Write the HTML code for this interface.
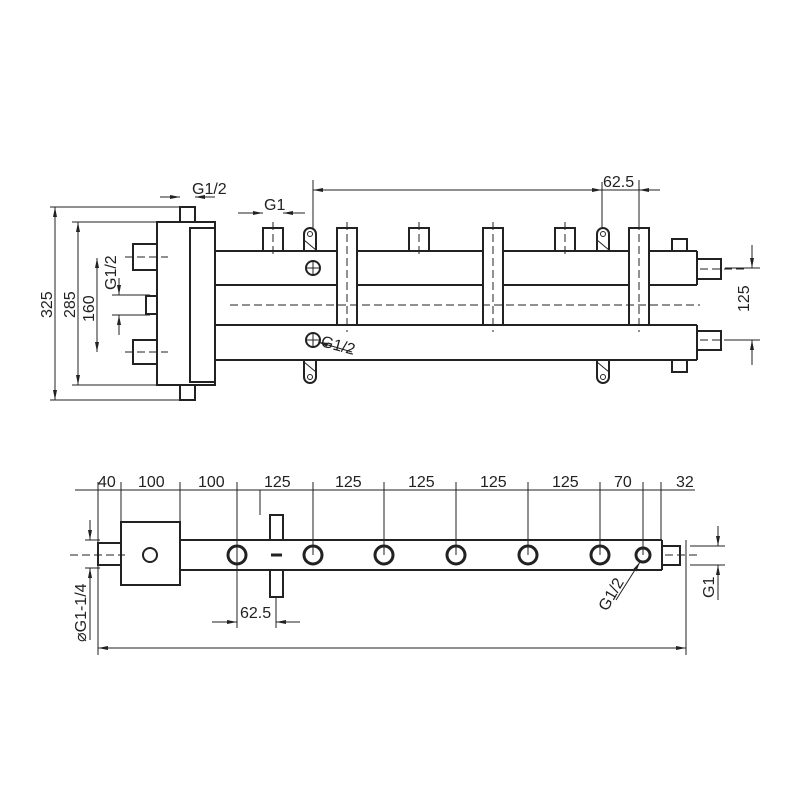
<!DOCTYPE html>
<html><head><meta charset="utf-8"><style>body{margin:0;background:#fff}svg{display:block}text{font-family:"Liberation Sans",sans-serif;font-size:16px;fill:#222}</style></head><body>
<svg width="800" height="800" viewBox="0 0 800 800" xmlns="http://www.w3.org/2000/svg">
<defs><marker id="a" viewBox="0 0 10 4" refX="10" refY="2" markerWidth="10" markerHeight="4" orient="auto-start-reverse" markerUnits="userSpaceOnUse"><path d="M0,0L10,2L0,4z" fill="#222"/></marker></defs>
<g stroke="#222" fill="none" stroke-width="1">
<g stroke-width="2">
<rect x="157" y="222" width="58" height="163" fill="#fff"/>
<rect x="190" y="228" width="25" height="154"/>
<line x1="215" y1="251" x2="697" y2="251"/><line x1="215" y1="285" x2="697" y2="285"/>
<line x1="215" y1="325" x2="697" y2="325"/><line x1="215" y1="360" x2="697" y2="360"/>
<line x1="697" y1="251" x2="697" y2="285"/><line x1="697" y1="325" x2="697" y2="360"/>
<rect x="180" y="207" width="15" height="15"/><rect x="180" y="385" width="15" height="15"/>
<rect x="133" y="244" width="24" height="26"/><rect x="133" y="340" width="24" height="24"/><rect x="146" y="296" width="11" height="18"/>
<rect x="697" y="259" width="24" height="20"/><rect x="697" y="331" width="24" height="19"/>
<rect x="672" y="239" width="15" height="12"/><rect x="672" y="360" width="15" height="12"/>
<rect x="337" y="228" width="20" height="97" fill="#fff"/><rect x="483" y="228" width="20" height="97" fill="#fff"/><rect x="629" y="228" width="20" height="97" fill="#fff"/>
<rect x="263" y="228" width="20" height="23"/><rect x="409" y="228" width="20" height="23"/><rect x="555" y="228" width="20" height="23"/>
<path d="M304,251V234a6,6 0 0 1 12,0V251"/><path d="M597,251V234a6,6 0 0 1 12,0V251"/>
<path d="M304,360V377a6,6 0 0 0 12,0V360"/><path d="M597,360V377a6,6 0 0 0 12,0V360"/>
<circle cx="313" cy="268" r="7"/><circle cx="313" cy="340" r="7"/>
</g>
<line x1="306" y1="268" x2="320" y2="268"/><line x1="313" y1="261" x2="313" y2="275"/>
<line x1="306" y1="340" x2="320" y2="340"/><line x1="313" y1="333" x2="313" y2="347"/>
<line x1="304" y1="240" x2="316" y2="250"/><line x1="597" y1="240" x2="609" y2="250"/>
<line x1="304" y1="362" x2="316" y2="372"/><line x1="597" y1="362" x2="609" y2="372"/>
<circle cx="310" cy="234" r="2.5"/><circle cx="603" cy="234" r="2.5"/><circle cx="310" cy="377" r="2.5"/><circle cx="603" cy="377" r="2.5"/>
<g stroke-dasharray="8,4"><line x1="230" y1="305" x2="700" y2="305"/><line x1="347" y1="222" x2="347" y2="332"/><line x1="493" y1="222" x2="493" y2="332"/><line x1="639" y1="222" x2="639" y2="332"/>
<line x1="273" y1="222" x2="273" y2="258"/><line x1="419" y1="222" x2="419" y2="258"/><line x1="565" y1="222" x2="565" y2="258"/>
<line x1="700" y1="269" x2="745" y2="269"/><line x1="700" y1="340" x2="745" y2="340"/><line x1="125" y1="257" x2="168" y2="257"/><line x1="125" y1="352" x2="168" y2="352"/></g>
<line x1="50" y1="207" x2="185" y2="207"/><line x1="50" y1="400" x2="185" y2="400"/>
<line x1="55" y1="207" x2="55" y2="400" marker-start="url(#a)" marker-end="url(#a)"/>
<line x1="72" y1="222" x2="160" y2="222"/><line x1="72" y1="385" x2="160" y2="385"/>
<line x1="78" y1="222" x2="78" y2="385" marker-start="url(#a)" marker-end="url(#a)"/>
<line x1="97" y1="258" x2="97" y2="352" marker-start="url(#a)" marker-end="url(#a)"/>
<line x1="112" y1="295" x2="150" y2="295"/><line x1="112" y1="315" x2="150" y2="315"/>
<line x1="119" y1="278" x2="119" y2="295" marker-end="url(#a)"/><line x1="119" y1="335" x2="119" y2="315" marker-end="url(#a)"/>
<line x1="313" y1="180" x2="313" y2="228"/><line x1="313" y1="190" x2="660" y2="190" marker-start="url(#a)"/>
<line x1="602" y1="182" x2="602" y2="228"/><line x1="639" y1="180" x2="639" y2="228"/>
<line x1="585" y1="190" x2="602" y2="190" marker-end="url(#a)"/><line x1="656" y1="190" x2="639" y2="190" marker-end="url(#a)"/>
<line x1="238" y1="213" x2="263" y2="213" marker-end="url(#a)"/><line x1="305" y1="213" x2="283" y2="213" marker-end="url(#a)"/>
<line x1="160" y1="197" x2="180" y2="197" marker-end="url(#a)"/><line x1="215" y1="197" x2="195" y2="197" marker-end="url(#a)"/>
<line x1="725" y1="268" x2="760" y2="268"/><line x1="725" y1="340" x2="760" y2="340"/>
<line x1="752" y1="245" x2="752" y2="268" marker-end="url(#a)"/><line x1="752" y1="365" x2="752" y2="340" marker-end="url(#a)"/>
<line x1="352" y1="352" x2="318" y2="342" marker-end="url(#a)"/>
<g stroke-width="2">
<rect x="121" y="522" width="59" height="63"/>
<line x1="180" y1="540" x2="662" y2="540"/><line x1="180" y1="570" x2="662" y2="570"/><line x1="662" y1="540" x2="662" y2="570"/>
<rect x="98" y="543" width="23" height="22"/><rect x="662" y="546" width="18" height="19"/>
<g stroke-width="3"><circle cx="237" cy="555" r="9"/><circle cx="313" cy="555" r="9"/><circle cx="384" cy="555" r="9"/><circle cx="456" cy="555" r="9"/><circle cx="528" cy="555" r="9"/><circle cx="600" cy="555" r="9"/><circle cx="643" cy="555" r="7"/></g>
<circle cx="150" cy="555" r="7"/>
<rect x="270" y="515" width="13" height="25"/><rect x="270" y="570" width="13" height="27"/>
<line x1="271" y1="555" x2="282" y2="555" stroke-width="3"/>
</g>
<g stroke-dasharray="8,4"><line x1="70" y1="555" x2="125" y2="555"/><line x1="665" y1="555" x2="700" y2="555"/></g>
<line x1="75" y1="490" x2="695" y2="490"/>
<g>
<line x1="98" y1="482" x2="98" y2="655"/><line x1="121" y1="482" x2="121" y2="522"/><line x1="180" y1="482" x2="180" y2="540"/>
<line x1="237" y1="482" x2="237" y2="628"/><line x1="313" y1="482" x2="313" y2="555"/><line x1="384" y1="482" x2="384" y2="555"/>
<line x1="456" y1="482" x2="456" y2="555"/><line x1="528" y1="482" x2="528" y2="555"/><line x1="600" y1="482" x2="600" y2="555"/>
<line x1="643" y1="482" x2="643" y2="555"/><line x1="661" y1="482" x2="661" y2="540"/><line x1="686" y1="540" x2="686" y2="655"/>
<line x1="260" y1="490" x2="260" y2="515"/><line x1="276" y1="597" x2="276" y2="628"/>
</g>
<line x1="98" y1="648" x2="686" y2="648" marker-start="url(#a)" marker-end="url(#a)"/>
<line x1="212" y1="622" x2="237" y2="622" marker-end="url(#a)"/><line x1="300" y1="622" x2="276" y2="622" marker-end="url(#a)"/>
<line x1="85" y1="540" x2="100" y2="540"/><line x1="85" y1="568" x2="100" y2="568"/>
<line x1="90" y1="520" x2="90" y2="540" marker-end="url(#a)"/><line x1="90" y1="640" x2="90" y2="568" marker-end="url(#a)"/>
<line x1="690" y1="546" x2="725" y2="546"/><line x1="690" y1="565" x2="725" y2="565"/>
<line x1="718" y1="526" x2="718" y2="546" marker-end="url(#a)"/><line x1="718" y1="600" x2="718" y2="565" marker-end="url(#a)"/>
<line x1="616" y1="600" x2="640" y2="562" marker-end="url(#a)"/>
</g>
<text x="192" y="194">G1/2</text><text x="264" y="210">G1</text><text x="603" y="187">62.5</text>
<text x="320" y="346" transform="rotate(15 320 346)">G1/2</text>
<text transform="translate(52 318) rotate(-90)">325</text><text transform="translate(75 318) rotate(-90)">285</text>
<text transform="translate(94 322) rotate(-90)">160</text><text transform="translate(116 290) rotate(-90)">G1/2</text>
<text transform="translate(749 312) rotate(-90)">125</text>
<text x="98" y="487">40</text><text x="138" y="487">100</text><text x="198" y="487">100</text><text x="264" y="487">125</text>
<text x="335" y="487">125</text><text x="408" y="487">125</text><text x="480" y="487">125</text><text x="552" y="487">125</text>
<text x="614" y="487">70</text><text x="676" y="487">32</text>
<text x="240" y="618">62.5</text>
<text transform="translate(86 642) rotate(-90)">⌀G1-1/4</text>
<text transform="translate(714 598) rotate(-90)">G1</text>
<text transform="translate(607 612) rotate(-60)">G1/2</text>
</svg>
</body></html>
